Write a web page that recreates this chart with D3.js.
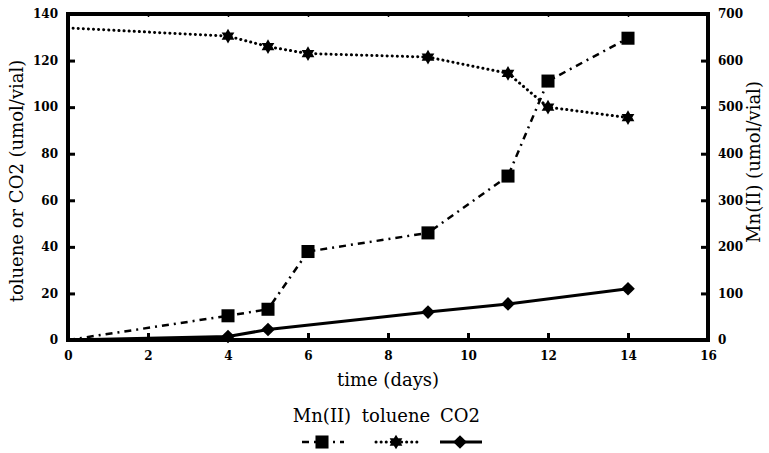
<!DOCTYPE html>
<html>
<head>
<meta charset="utf-8">
<script src="https://cdn.jsdelivr.net/npm/d3@7"></script>
<style>
  body { margin: 0; background: #fff; }
</style>
</head>
<body>
<svg width="769" height="453"></svg>
<script>
// data
const mnDays = [0, 4, 5, 6, 9, 11, 12, 14];
const mnValues = [0, 52, 66, 190, 230, 352, 556, 648];       // right axis
const tolDays = [0, 4, 5, 6, 9, 11, 12, 14];
const tolValues = [134, 130.5, 126, 123, 121.5, 114.5, 100, 95.5];
const co2Days = [0, 4, 5, 9, 11, 14];
const co2Values = [0, 1.5, 4.5, 12, 15.5, 22];
const xTicks = [0, 2, 4, 6, 8, 10, 12, 14, 16];
const leftTicks = [0, 20, 40, 60, 80, 100, 120, 140];
const rightTicks = [0, 100, 200, 300, 400, 500, 600, 700];

const serif = '"DejaVu Serif", serif';

const svg = d3.select('svg').attr('font-family', serif),
      margin = {top: 14, right: 61, bottom: 113, left: 68},
      width = +svg.attr('width') - margin.left - margin.right,
      height = +svg.attr('height') - margin.top - margin.bottom,
      g = svg.append('g').attr('transform', `translate(${margin.left}, ${margin.top})`);

const x = d3.scaleLinear().domain([0, 16]).range([0, width]);
const yL = d3.scaleLinear().domain([0, 140]).range([height, 0]);
const yR = d3.scaleLinear().domain([0, 700]).range([height, 0]);

// six point star
const star6 = {
  draw(ctx, size) {
    const r = Math.sqrt(size) * 0.62, ri = r * 0.58;
    for (let i = 0; i < 12; i++) {
      const a = -Math.PI / 2 + i * Math.PI / 6, rr = i % 2 ? ri : r;
      if (i === 0) ctx.moveTo(rr * Math.cos(a), rr * Math.sin(a));
      else ctx.lineTo(rr * Math.cos(a), rr * Math.sin(a));
    }
    ctx.closePath();
  }
};

// square diamond (rotated square)
const diamond = {
  draw(ctx, size) {
    const r = Math.sqrt(size) * 0.72;
    ctx.moveTo(0, -r); ctx.lineTo(r, 0); ctx.lineTo(0, r); ctx.lineTo(-r, 0);
    ctx.closePath();
  }
};

const styleAxis = (sel) => {
  sel.attr('font-family', serif);
  sel.select('.domain').remove();
  sel.selectAll('.tick line').attr('stroke', '#000').attr('stroke-width', 3);
  sel.selectAll('.tick text').attr('font-size', 12).attr('font-weight', 'bold');
};

g.append('g')
  .attr('transform', `translate(0, ${height})`)
  .call(d3.axisBottom(x).tickValues(xTicks).tickSize(-7).tickPadding(11))
  .call(styleAxis);

g.append('g')
  .call(d3.axisTop(x).tickValues(xTicks).tickSize(-3).tickFormat(''))
  .call(styleAxis)
  .selectAll('.tick line').attr('stroke-width', 1.5);

g.append('g')
  .call(d3.axisLeft(yL).tickValues(leftTicks).tickSize(-7).tickPadding(10))
  .call(styleAxis);

g.append('g')
  .attr('transform', `translate(${width}, 0)`)
  .call(d3.axisRight(yR).tickValues(rightTicks).tickSize(-7).tickPadding(10))
  .call(styleAxis);

// frame
g.append('rect')
  .attr('width', width)
  .attr('height', height)
  .attr('fill', 'none')
  .attr('stroke', '#000')
  .attr('stroke-width', 4);

const series = [
  {days: mnDays, vals: mnValues, y: yR, dash: '7,5,2,5', lw: 2.5, cap: 'butt', sym: d3.symbolSquare, size: 170},
  {days: tolDays, vals: tolValues, y: yL, dash: '0.1,5', lw: 3, cap: 'round', sym: star6, size: 140},
  {days: co2Days, vals: co2Values, y: yL, dash: null, lw: 3, cap: 'butt', sym: diamond, size: 90}
];

series.forEach(s => {
  const pts = s.days.map((d, i) => ({day: d, v: s.vals[i]}));
  g.append('path')
    .datum(pts)
    .attr('fill', 'none')
    .attr('stroke', '#000')
    .attr('stroke-width', s.lw)
    .attr('stroke-linecap', s.cap)
    .attr('stroke-dasharray', s.dash)
    .attr('d', d3.line().x(p => x(p.day)).y(p => s.y(p.v)));
  g.append('g').selectAll('path')
    .data(pts.filter(p => p.day > 0))
    .enter().append('path')
      .attr('transform', p => `translate(${x(p.day)}, ${s.y(p.v)})`)
      .attr('d', d3.symbol().type(s.sym).size(s.size))
      .attr('fill', '#000');
});

// axis titles
svg.append('text')
  .attr('transform', `translate(23, ${margin.top + height / 2 + 4}) rotate(-90)`)
  .attr('text-anchor', 'middle')
  .attr('font-size', 18)
  .text('toluene or CO2 (umol/vial)');

svg.append('text')
  .attr('transform', `translate(760, ${margin.top + height / 2 - 15}) rotate(-90)`)
  .attr('text-anchor', 'middle')
  .attr('font-size', 18)
  .text('Mn(II) (umol/vial)');

svg.append('text')
  .attr('x', 388)
  .attr('y', 386)
  .attr('text-anchor', 'middle')
  .attr('font-size', 18)
  .text('time (days)');

// legend
const legendNames = ['Mn(II)', 'toluene', 'CO2'];
const legendX = [322, 396, 460];
const legend = svg.append('g');
legendNames.forEach((name, i) => {
  const s = series[i], cx = legendX[i];
  legend.append('text')
    .attr('x', cx)
    .attr('y', 422)
    .attr('text-anchor', 'middle')
    .attr('font-size', 18)
    .text(name);
  legend.append('line')
    .attr('x1', cx - 20).attr('x2', cx + 22)
    .attr('y1', 442).attr('y2', 442)
    .attr('stroke', '#000')
    .attr('stroke-width', s.lw)
    .attr('stroke-linecap', s.cap)
    .attr('stroke-dasharray', s.dash);
  legend.append('path')
    .attr('transform', `translate(${cx}, 442)`)
    .attr('d', d3.symbol().type(s.sym).size(s.size))
    .attr('fill', '#000');
});
</script>
</body>
</html>
